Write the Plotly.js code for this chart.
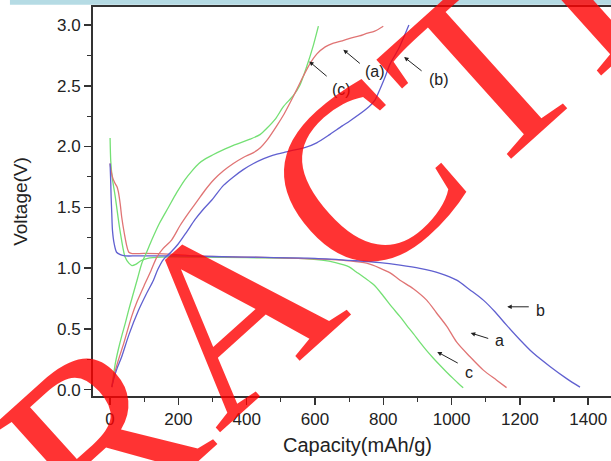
<!DOCTYPE html>
<html>
<head>
<meta charset="utf-8">
<script src="https://cdn.plot.ly/plotly-3.0.1.min.js"></script>
<style>
html,body{margin:0;padding:0;overflow:hidden;background:#fff;}
#chart{width:640px;height:461px;}
</style>
</head>
<body>
<div id="chart"></div>
<script>
// ---- data ----
// Discharge curves
var disA_x = [0, 3, 8, 14, 20, 24, 30, 34, 42, 49, 55, 62, 100, 170, 250, 400, 550, 650, 700, 751, 790, 820, 849, 888, 927, 956, 986, 1015, 1054, 1093, 1132, 1161];
var disA_y = [1.86, 1.80, 1.74, 1.70, 1.67, 1.63, 1.52, 1.42, 1.28, 1.18, 1.13, 1.12, 1.12, 1.115, 1.10, 1.09, 1.08, 1.07, 1.06, 1.04, 1.00, 0.96, 0.90, 0.83, 0.736, 0.63, 0.52, 0.39, 0.27, 0.16, 0.077, 0.016];

var disB_x = [0, 2, 3, 5, 7, 12, 19, 30, 44, 80, 200, 300, 400, 600, 720, 790, 849, 907, 966, 1015, 1054, 1093, 1127, 1161, 1200, 1239, 1288, 1337, 1376];
var disB_y = [1.86, 1.70, 1.59, 1.45, 1.31, 1.20, 1.13, 1.11, 1.10, 1.10, 1.10, 1.095, 1.09, 1.08, 1.06, 1.045, 1.024, 0.997, 0.956, 0.90, 0.82, 0.736, 0.64, 0.53, 0.41, 0.30, 0.19, 0.09, 0.02];

var disC_x = [0, 2, 6, 15, 29, 44, 55, 64, 75, 90, 110, 150, 250, 400, 550, 620, 660, 700, 720, 745, 773, 800, 825, 849, 868, 888, 907, 927, 946, 966, 985, 1005, 1020, 1034];
var disC_y = [2.07, 1.88, 1.75, 1.59, 1.31, 1.09, 1.04, 1.02, 1.03, 1.06, 1.08, 1.09, 1.09, 1.085, 1.08, 1.065, 1.045, 1.01, 0.97, 0.92, 0.86, 0.77, 0.68, 0.60, 0.53, 0.46, 0.39, 0.32, 0.26, 0.20, 0.145, 0.09, 0.05, 0.015];

// Charge curves
var chA_x = [5, 12, 24, 40, 63, 80, 102, 120, 137, 155, 180, 205, 229, 255, 278, 305, 332, 361, 390, 420, 440, 459, 488, 510, 527, 545, 566, 585, 605, 630, 654, 680, 702, 730, 751, 775, 800];
var chA_y = [0.02, 0.12, 0.24, 0.38, 0.60, 0.73, 0.87, 0.98, 1.09, 1.16, 1.23, 1.35, 1.45, 1.55, 1.64, 1.73, 1.80, 1.86, 1.91, 1.95, 1.99, 2.05, 2.17, 2.27, 2.36, 2.46, 2.58, 2.68, 2.76, 2.82, 2.85, 2.87, 2.89, 2.91, 2.93, 2.95, 2.99];

var chB_x = [5, 12, 20, 34, 55, 83, 105, 127, 140, 156, 178, 200, 225, 249, 275, 298, 332, 361, 390, 420, 450, 478, 508, 537, 570, 605, 644, 680, 702, 751, 775, 790, 805, 820, 844, 863, 875];
var chB_y = [0.02, 0.10, 0.17, 0.27, 0.45, 0.65, 0.78, 0.90, 0.99, 1.07, 1.13, 1.20, 1.30, 1.40, 1.49, 1.56, 1.68, 1.75, 1.81, 1.86, 1.90, 1.93, 1.95, 1.97, 1.99, 2.03, 2.10, 2.17, 2.21, 2.31, 2.38, 2.47, 2.57, 2.68, 2.80, 2.92, 3.00];

var chC_x = [5, 10, 15, 25, 35, 44, 55, 68, 80, 93, 107, 122, 145, 171, 195, 220, 240, 260, 280, 300, 337, 361, 410, 440, 459, 485, 508, 537, 555, 576, 595, 610];
var chC_y = [0.02, 0.12, 0.21, 0.34, 0.45, 0.54, 0.66, 0.79, 0.91, 1.04, 1.13, 1.23, 1.37, 1.50, 1.62, 1.73, 1.80, 1.86, 1.90, 1.93, 1.98, 2.01, 2.06, 2.10, 2.15, 2.23, 2.33, 2.42, 2.50, 2.66, 2.83, 2.99];

var xTicks = [0, 200, 400, 600, 800, 1000, 1200, 1400];
var yTicks = [0.0, 0.5, 1.0, 1.5, 2.0, 2.5, 3.0];
var xTitle = 'Capacity(mAh/g)';
var yTitle = 'Voltage(V)';
// visible letters of the diagonal "RETRACTED" stamp
var stampLetters = ['R', 'A', 'C', 'T', 'E'];

// ---- styles ----
var cRed = '#e07474', cBlue = '#6060d0', cGreen = '#74e074';
function line(x, y, color, name) {
  return {x: x, y: y, mode: 'lines', name: name, line: {color: color, width: 1.3, shape: 'spline', smoothing: 0.8}, hoverinfo: 'skip'};
}
var traces = [
  line(disC_x, disC_y, cGreen, 'c discharge'),
  line(disA_x, disA_y, cRed, 'a discharge'),
  line(disB_x, disB_y, cBlue, 'b discharge'),
  line(chC_x, chC_y, cGreen, 'c charge'),
  line(chA_x, chA_y, cRed, 'a charge'),
  line(chB_x, chB_y, cBlue, 'b charge')
];

var axisCol = '#333';
var tickFont = {family: 'Liberation Sans, Arial, sans-serif', size: 17, color: '#222'};

function arrow(x, y, ax, ay) {
  return {x: x, y: y, xref: 'x', yref: 'y', ax: ax, ay: ay, text: '', showarrow: true,
    arrowhead: 2, arrowsize: 0.9, arrowwidth: 1, arrowcolor: '#222', standoff: 0};
}
function label(x, y, t) {
  return {x: x, y: y, xref: 'x', yref: 'y', text: t, showarrow: false,
    xanchor: 'center', yanchor: 'middle',
    font: {family: 'Liberation Sans, Arial, sans-serif', size: 16, color: '#222'}};
}

var annotations = [
  arrow(683, 2.797, 18, 15), label(776, 2.618, '(a)'),
  arrow(861, 2.736, 19, 15), label(964, 2.555, '(b)'),
  arrow(583, 2.70, 19, 16), label(678, 2.473, '(c)'),
  arrow(1163, 0.681, 23, 0), label(1259, 0.648, 'b'),
  arrow(1056, 0.466, 19, 6), label(1140, 0.40, 'a'),
  arrow(958, 0.31, 22, 12), label(1052, 0.137, 'c')
];

// stamp letter placement (paper coordinates of each letter centre)
var stampPos = [[0.012, -0.105], [0.257, 0.221], [0.510, 0.558], [0.737, 0.838], [0.951, 1.103]];
stampLetters.forEach(function(ch, i) {
  annotations.push({xref: 'paper', yref: 'paper', x: stampPos[i][0], y: stampPos[i][1],
    xanchor: 'center', yanchor: 'middle', text: ch, showarrow: false, textangle: -42,
    font: {family: 'Liberation Serif, Times New Roman, serif', size: 250, color: 'rgba(255,0,0,0.8)'}});
});

var layout = {
  width: 640, height: 461,
  margin: {l: 93, r: 18, t: 7, b: 65},
  paper_bgcolor: '#fff', plot_bgcolor: '#fff',
  showlegend: false,
  xaxis: {
    range: [-50, 1499], tickvals: xTicks, ticktext: xTicks.map(String),
    ticks: 'outside', ticklen: 7, tickwidth: 1.5, tickcolor: axisCol,
    minor: {ticks: 'outside', ticklen: 4, dtick: 100, tick0: 0, tickcolor: axisCol, tickwidth: 1.2},
    showline: true, linecolor: axisCol, linewidth: 2, mirror: true,
    showgrid: false, zeroline: false, tickfont: tickFont,
    title: {text: xTitle, font: {family: 'Liberation Sans, Arial, sans-serif', size: 20, color: '#222'}, standoff: 10}
  },
  yaxis: {
    range: [-0.053, 3.148], tickvals: yTicks, ticktext: yTicks.map(function(v){return v.toFixed(1);}),
    ticks: 'outside', ticklen: 7, tickwidth: 1.5, tickcolor: axisCol,
    minor: {ticks: 'outside', ticklen: 4, dtick: 0.25, tick0: 0, tickcolor: axisCol, tickwidth: 1.2},
    showline: true, linecolor: axisCol, linewidth: 2, mirror: true,
    showgrid: false, zeroline: false, tickfont: tickFont,
    title: {text: yTitle, font: {family: 'Liberation Sans, Arial, sans-serif', size: 19, color: '#222'}, standoff: 24}
  },
  shapes: [
    {type: 'rect', xref: 'paper', yref: 'paper', x0: -0.157, x1: 1.1, y0: 1.006, y1: 1.03,
     fillcolor: '#b5dbe4', line: {width: 0}, layer: 'below'}
  ],
  annotations: annotations
};

Plotly.newPlot('chart', traces, layout, {staticPlot: true, displayModeBar: false});
</script>
</body>
</html>
